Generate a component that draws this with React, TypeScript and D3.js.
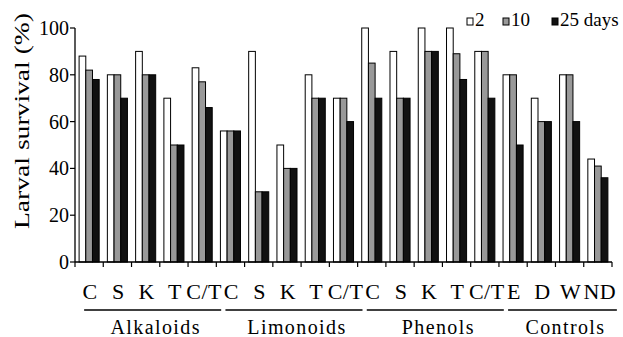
import React from 'react';
import * as d3 from 'd3';

const categories = ['C', 'S', 'K', 'T', 'C/T', 'C', 'S', 'K', 'T', 'C/T', 'C', 'S', 'K', 'T', 'C/T', 'E', 'D', 'W', 'ND'];
const groups = [
  { name: 'Alkaloids', start: 0, end: 4 },
  { name: 'Limonoids', start: 5, end: 9 },
  { name: 'Phenols', start: 10, end: 14 },
  { name: 'Controls', start: 15, end: 18 },
];
const seriesNames = ['2', '10', '25 days'];
const day2 = [88, 80, 90, 70, 83, 56, 90, 50, 80, 70, 100, 90, 100, 100, 90, 80, 70, 80, 44];
const day10 = [82, 80, 80, 50, 77, 56, 30, 40, 70, 70, 85, 70, 90, 89, 90, 80, 60, 80, 41];
const day25 = [78, 70, 80, 50, 66, 56, 30, 40, 70, 60, 70, 70, 90, 78, 70, 50, 60, 60, 36];
const yTicks = [0, 20, 40, 60, 80, 100];
const fills = ['#ffffff', '#999999', '#111111'];

const W = 623;
const H = 337;
const left = 75;
const right = 612;
const top = 28;
const bottom = 262;
const font = "'Liberation Serif', 'DejaVu Serif', serif";

export default function App() {
  const series = [day2, day10, day25];
  const x = d3.scaleBand<number>()
    .domain(d3.range(categories.length))
    .range([left, right])
    .paddingInner(0.29)
    .paddingOuter(0.145);
  const inner = d3.scaleBand<number>().domain([0, 1, 2]).range([0, x.bandwidth()]);
  const y = d3.scaleLinear().domain([0, 100]).range([bottom, top]);
  const step = x.step();
  const boundary = (i: number) => left + i * step;
  const center = (i: number) => (x(i) as number) + x.bandwidth() / 2;

  const legend = [
    { label: seriesNames[0], bx: 467, tx: 475 },
    { label: seriesNames[1], bx: 503, tx: 511 },
    { label: seriesNames[2], bx: 552, tx: 560 },
  ];

  const txt = { fontFamily: font };

  return (
    <svg width={W} height={H} style={{ position: 'absolute', left: 0, top: 0, background: '#fff', fontFamily: font }}>
      {categories.map((c, i) =>
        series.map((s, k) => (
          <rect
            key={`${i}-${k}`}
            x={(x(i) as number) + (inner(k) as number)}
            y={y(s[i])}
            width={inner.bandwidth()}
            height={y(0) - y(s[i])}
            fill={fills[k]}
            stroke="#000"
            strokeWidth={1}
          />
        ))
      )}
      {/* y axis */}
      <line x1={left} x2={left} y1={top} y2={bottom} stroke="#000" strokeWidth={1.3} />
      {yTicks.map(t => (
        <g key={t}>
          <line x1={left - 5} x2={left} y1={y(t)} y2={y(t)} stroke="#000" strokeWidth={1.2} />
          <text style={txt} x={left - 6} y={y(t)} dy="0.35em" textAnchor="end" fontSize={20}>{t}</text>
        </g>
      ))}
      <text style={txt} transform={`translate(29,121) rotate(-90)`} textAnchor="middle" fontSize={21}
        textLength={216} lengthAdjust="spacingAndGlyphs">Larval survival (%)</text>
      {/* x axis */}
      <line x1={left} x2={right} y1={bottom} y2={bottom} stroke="#000" strokeWidth={1.3} />
      {d3.range(categories.length + 1).map(i => (
        <line key={i} x1={boundary(i)} x2={boundary(i)} y1={bottom} y2={bottom + 5} stroke="#000" strokeWidth={1.2} />
      ))}
      {categories.map((c, i) => (
        <text style={txt} key={i} x={center(i) + (c.length > 1 ? 2 : 1)} y={299} textAnchor="middle" fontSize={22} letterSpacing={0.5}>{c}</text>
      ))}
      {groups.map(g => {
        const x1 = center(g.start) - 5;
        const x2 = center(g.end) + 19;
        return (
          <g key={g.name}>
            <line x1={x1} x2={x2} y1={310} y2={310} stroke="#000" strokeWidth={1.5} />
            <text style={txt} x={(x1 + x2) / 2 + 3} y={334} textAnchor="middle" fontSize={20} letterSpacing={1.4}>{g.name}</text>
          </g>
        );
      })}
      {/* legend */}
      {legend.map((l, k) => (
        <g key={l.label}>
          <rect x={l.bx} y={18} width={6} height={7} fill={fills[k]} stroke="#000" strokeWidth={1} />
          <text style={txt} x={l.tx} y={26} fontSize={19}>{l.label}</text>
        </g>
      ))}
    </svg>
  );
}
